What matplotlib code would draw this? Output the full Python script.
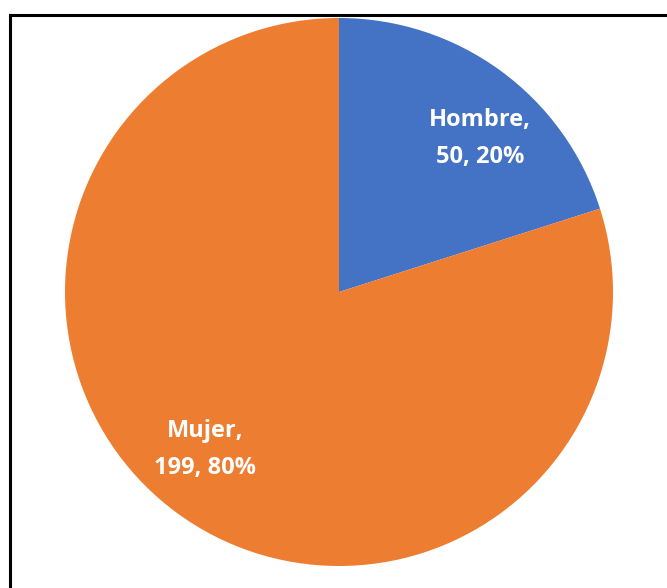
import matplotlib.pyplot as plt
from matplotlib.lines import Line2D

labels = ["Hombre", "Mujer"]
counts = [50, 199]
colors = ["#4472C4", "#ED7D31"]

W, H = 667, 588
fig = plt.figure(figsize=(W / 100, H / 100), dpi=100)

# pie centred at about (339, 292) px, radius ~274 px
cx, cy, r = 339, 292, 274
ax = fig.add_axes([(cx - r) / W, (H - cy - r) / H, 2 * r / W, 2 * r / H])

total = sum(counts)
texts = [f"{l},\n{c}, {round(100 * c / total)}%" for l, c in zip(labels, counts)]

wedges, lbls = ax.pie(counts, colors=colors, startangle=90, counterclock=False,
                      labels=texts, labeldistance=0.755,
                      textprops=dict(color="white", fontsize=17, fontweight="bold",
                                     family="Open Sans", linespacing=1.75))
for t in lbls:
    t.set_horizontalalignment("center")
    t.set_verticalalignment("center")
# nudge labels a bit like the original
lbls[0].set_position((0.515, 0.56))
lbls[1].set_position((-0.49, -0.575))

ax.set_xlim(-1, 1)
ax.set_ylim(-1, 1)
ax.set_aspect("equal")

# chart frame (cut off at right and bottom)
x0, y0 = 10 / W, 1 - 15 / H
fig.add_artist(Line2D([x0, 1.0], [y0, y0], color="black", lw=2.2, transform=fig.transFigure))
fig.add_artist(Line2D([x0, x0], [y0, 0.0], color="black", lw=2.2, transform=fig.transFigure))

fig.savefig("out.png", dpi=100)
